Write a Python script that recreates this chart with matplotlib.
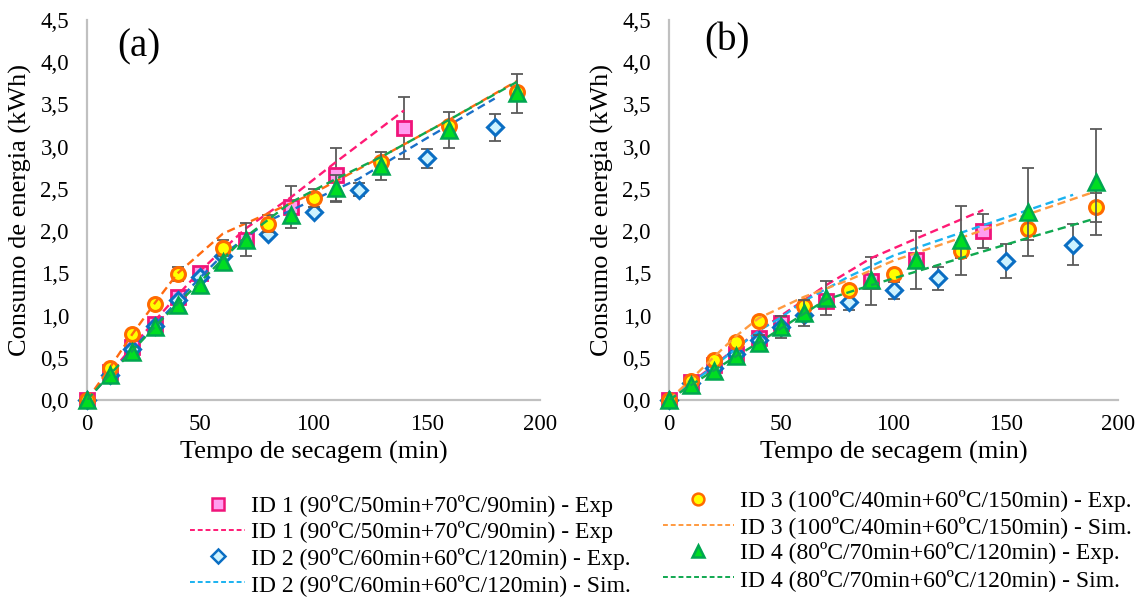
import matplotlib
matplotlib.use("Agg")
import matplotlib.pyplot as plt
from matplotlib.lines import Line2D
import numpy as np

plt.rcParams['font.family'] = ['Liberation Serif', 'DejaVu Serif']

# ---------------- data ----------------
t1 = [0, 10, 20, 30, 40, 50, 70, 90, 110, 140]
t2 = [0, 10, 20, 30, 40, 50, 60, 80, 100, 120, 150, 180]
t3 = [0, 10, 20, 30, 40, 60, 80, 100, 130, 160, 190]
t4 = [0, 10, 20, 30, 40, 50, 60, 70, 90, 110, 130, 160, 190]

# panel (a)
a_id1_exp = [0, 0.33, 0.63, 0.90, 1.22, 1.50, 1.90, 2.29, 2.67, 3.22]
a_id1_err = [0, 0, 0, 0, 0, 0.06, 0, 0.25, 0.31, 0.37]
a_id1_sim = [0, 0.31, 0.63, 0.94, 1.24, 1.53, 2.03, 2.40, 2.82, 3.43]

a_id2_exp = [0, 0.30, 0.60, 0.88, 1.18, 1.46, 1.70, 1.96, 2.23, 2.49, 2.86, 3.23]
a_id2_err = [0, 0, 0, 0, 0, 0, 0, 0, 0, 0.08, 0.11, 0.16]
a_id2_sim = [0, 0.30, 0.60, 0.89, 1.17, 1.45, 1.72, 2.12, 2.37, 2.62, 3.10, 3.57]

a_id3_exp = [0, 0.375, 0.78, 1.14, 1.49, 1.80, 2.09, 2.39, 2.82, 3.25, 3.65]
a_id3_err = [0, 0, 0, 0.05, 0.08, 0.10, 0.10, 0.11, 0, 0, 0.06]
a_id3_sim = [0, 0.38, 0.78, 1.15, 1.50, 1.97, 2.21, 2.45, 2.88, 3.32, 3.78]

a_id4_exp = [0, 0.30, 0.57, 0.87, 1.13, 1.36, 1.64, 1.90, 2.19, 2.51, 2.77, 3.20, 3.63]
a_id4_err = [0, 0, 0, 0, 0, 0, 0, 0.20, 0, 0.16, 0.17, 0.21, 0.23]
a_id4_sim = [0, 0.30, 0.58, 0.87, 1.14, 1.40, 1.67, 1.93, 2.34, 2.62, 2.88, 3.32, 3.77]

# panel (b)
b_id1_exp = [0, 0.21, 0.41, 0.55, 0.74, 0.91, 1.17, 1.41, 1.66, 2.00]
b_id1_err = [0, 0, 0, 0, 0, 0, 0, 0.28, 0, 0.20]
b_id1_sim = [0, 0.21, 0.41, 0.62, 0.82, 1.00, 1.36, 1.68, 1.91, 2.25]

b_id2_exp = [0, 0.20, 0.38, 0.54, 0.71, 0.87, 1.01, 1.16, 1.30, 1.44, 1.65, 1.84]
b_id2_err = [0, 0, 0, 0, 0, 0, 0, 0.09, 0.10, 0.14, 0.20, 0.24]
b_id2_sim = [0, 0.20, 0.40, 0.61, 0.82, 0.98, 1.17, 1.46, 1.71, 1.89, 2.16, 2.43]

b_id3_exp = [0, 0.22, 0.47, 0.69, 0.93, 1.11, 1.30, 1.49, 1.77, 2.02, 2.28]
b_id3_err = [0, 0, 0, 0, 0, 0, 0, 0, 0.09, 0.12, 0.17]
b_id3_sim = [0, 0.25, 0.51, 0.76, 0.97, 1.22, 1.42, 1.65, 1.92, 2.20, 2.47]

b_id4_exp = [0, 0.18, 0.34, 0.52, 0.68, 0.86, 1.03, 1.21, 1.42, 1.66, 1.89, 2.23, 2.58]
b_id4_err = [0, 0, 0, 0, 0.09, 0.13, 0.15, 0.20, 0, 0.34, 0.41, 0.52, 0.63]
b_id4_sim = [0, 0.18, 0.35, 0.52, 0.68, 0.85, 1.02, 1.19, 1.36, 1.52, 1.68, 1.92, 2.15]

x_ticks = [0, 50, 100, 150, 200]
y_ticks = [0.0, 0.5, 1.0, 1.5, 2.0, 2.5, 3.0, 3.5, 4.0, 4.5]

labels = [
    "ID 1 (90ºC/50min+70ºC/90min) - Exp",
    "ID 1 (90ºC/50min+70ºC/90min) - Exp",
    "ID 2 (90ºC/60min+60ºC/120min) - Exp.",
    "ID 2 (90ºC/60min+60ºC/120min) - Sim.",
    "ID 3 (100ºC/40min+60ºC/150min) - Exp.",
    "ID 3 (100ºC/40min+60ºC/150min) - Sim.",
    "ID 4 (80ºC/70min+60ºC/120min) - Exp.",
    "ID 4 (80ºC/70min+60ºC/120min) - Sim.",
]

# ---------------- styles ----------------
mk = {
    1: dict(marker='s', ms=10, mfc='#FF9EF0', mec='#F0147A', mew=2.0),
    2: dict(marker='D', ms=8, mfc='#CDF3FF', mec='#0A6EC3', mew=2.2),
    3: dict(marker='o', ms=10, mfc='#FFFF00', mec='#FF6A00', mew=2.2),
    4: dict(marker='^', ms=11, mfc='#00DD22', mec='#00A650', mew=1.8),
}
sim_col_a = {1: '#FF1A75', 2: '#1A70C8', 3: '#FF6A10', 4: '#10A850'}
sim_col_b = {1: '#FF1A75', 2: '#1AB2F0', 3: '#FF9A40', 4: '#10A850'}
err_col = '#5A5A5A'
dash = (3.5, 2.0)

fig = plt.figure(figsize=(11.43, 6.01), dpi=100)
ax_a = fig.add_axes([87/1143, 1-400/601, 453/1143, 380/601])
ax_b = fig.add_axes([669/1143, 1-400/601, 449/1143, 380/601])


def draw(ax, series, simcols, tag, tagpos):
    z = 2
    for sid, (t, ye, err, ys) in series.items():
        t = np.asarray(t, float)
        ye = np.asarray(ye, float)
        err = np.asarray(err, float)
        m = err > 0
        if m.any():
            ax.errorbar(t[m], ye[m], yerr=err[m], fmt='none', ecolor=err_col,
                        elinewidth=1.3, capsize=4, capthick=1.3, zorder=z, clip_on=False)
        ax.plot(t, ye, linestyle='none', zorder=z + 0.5, clip_on=False, **mk[sid])
        ax.plot(t, ys, color=simcols[sid], lw=1.7, dashes=dash, zorder=z + 0.6)
        z += 1
    ax.set_xlim(0, 200)
    ax.set_ylim(0, 4.5)
    ax.set_xticks(x_ticks)
    ax.set_yticks(y_ticks)
    ax.set_yticklabels([f"{v:.1f}".replace('.', ',') for v in y_ticks])
    ax.tick_params(length=0, labelsize=16.5)
    ax.tick_params(axis='x', pad=10)
    ax.tick_params(axis='y', pad=13)
    for s in ['top', 'right']:
        ax.spines[s].set_visible(False)
    for s in ['left', 'bottom']:
        ax.spines[s].set_color('#C0C0C0')
        ax.spines[s].set_linewidth(1.6)
    ax.set_xlabel("Tempo de secagem (min)", fontsize=19, labelpad=4)
    ax.set_ylabel("Consumo de energia (kWh)", fontsize=19)
    ax.yaxis.set_label_coords(-0.122, 0.5)
    ax.text(tagpos[0], tagpos[1], tag, transform=ax.transAxes, fontsize=28,
            ha='center', va='center')


draw(ax_a, {1: (t1, a_id1_exp, a_id1_err, a_id1_sim),
            2: (t2, a_id2_exp, a_id2_err, a_id2_sim),
            3: (t3, a_id3_exp, a_id3_err, a_id3_sim),
            4: (t4, a_id4_exp, a_id4_err, a_id4_sim)}, sim_col_a, "(a)", (0.115, 0.93))
draw(ax_b, {1: (t1, b_id1_exp, b_id1_err, b_id1_sim),
            2: (t2, b_id2_exp, b_id2_err, b_id2_sim),
            3: (t3, b_id3_exp, b_id3_err, b_id3_sim),
            4: (t4, b_id4_exp, b_id4_err, b_id4_sim)}, sim_col_b, "(b)", (0.13, 0.945))


def exp_handle(sid):
    d = dict(mk[sid])
    d['ms'] = d['ms'] * 0.85
    d['mew'] = 1.8
    return Line2D([], [], linestyle='none', **d)


def sim_handle(sid):
    return Line2D([], [], color=sim_col_b[sid], lw=1.4, dashes=(2.5, 1.5))


left_h = [exp_handle(1), sim_handle(1), exp_handle(2), sim_handle(2)]
right_h = [exp_handle(3), sim_handle(3), exp_handle(4), sim_handle(4)]

common = dict(frameon=False, fontsize=17, handletextpad=0.25,
              labelspacing=0.18, borderpad=0, borderaxespad=0, loc='upper left')
fig.legend(left_h, labels[:4], bbox_to_anchor=(190/1143, 1-495/601),
           handlelength=2.35, **common)
fig.legend(right_h, labels[4:], bbox_to_anchor=(663/1143, 1-490/601),
           handlelength=3.0, **common)

fig.savefig("out.png", dpi=100)
